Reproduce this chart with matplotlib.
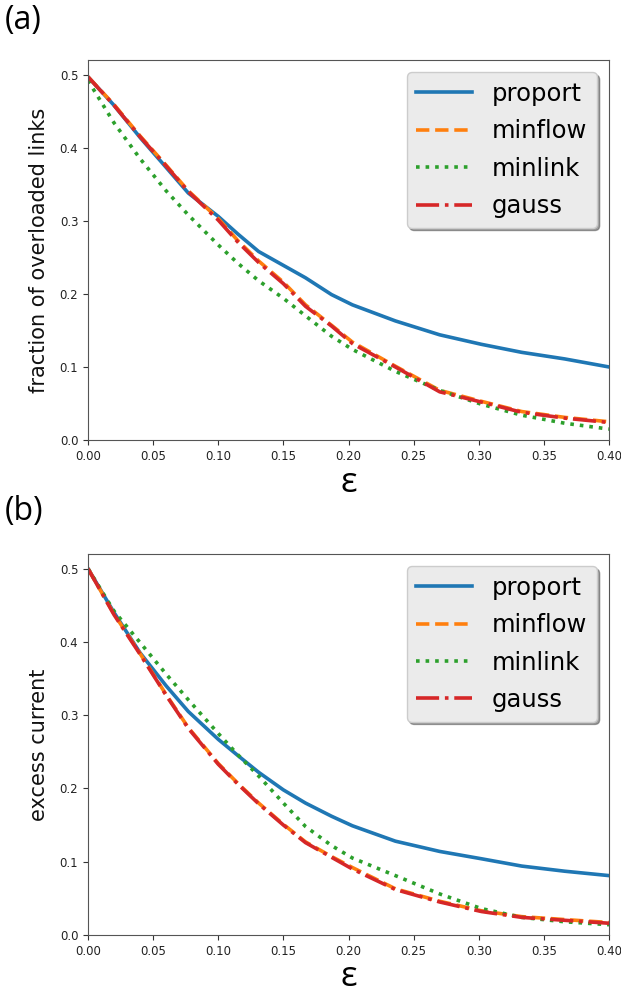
import matplotlib
matplotlib.use("Agg")
import matplotlib.pyplot as plt

# common grid of epsilon values
eps = [0, 0.02, 0.04, 0.06, 0.077, 0.10, 0.115, 0.131, 0.15, 0.167,
       0.187, 0.203, 0.236, 0.27, 0.302, 0.333, 0.366, 0.40]

# (a) fraction of overloaded links
a_proport = [0.497, 0.458, 0.414, 0.373, 0.338, 0.306, 0.282, 0.258, 0.239, 0.222,
             0.199, 0.185, 0.163, 0.144, 0.131, 0.120, 0.111, 0.100]
a_minflow = [0.497, 0.459, 0.416, 0.376, 0.341, 0.303, 0.273, 0.245, 0.216, 0.185,
             0.157, 0.134, 0.101, 0.068, 0.053, 0.039, 0.031, 0.025]
a_minlink = [0.492, 0.434, 0.385, 0.341, 0.308, 0.267, 0.242, 0.218, 0.194, 0.170,
             0.142, 0.124, 0.094, 0.068, 0.049, 0.034, 0.023, 0.015]
a_gauss = [0.497, 0.458, 0.415, 0.375, 0.340, 0.301, 0.271, 0.243, 0.214, 0.183,
           0.156, 0.132, 0.100, 0.066, 0.052, 0.038, 0.030, 0.024]

# (b) excess current
b_proport = [0.500, 0.440, 0.385, 0.340, 0.305, 0.267, 0.245, 0.222, 0.198, 0.180,
             0.162, 0.149, 0.128, 0.114, 0.104, 0.094, 0.087, 0.081]
b_minflow = [0.500, 0.438, 0.384, 0.328, 0.283, 0.234, 0.207, 0.180, 0.151, 0.127,
             0.107, 0.092, 0.063, 0.046, 0.033, 0.025, 0.021, 0.017]
b_minlink = [0.500, 0.442, 0.399, 0.356, 0.321, 0.275, 0.246, 0.217, 0.180, 0.148,
             0.122, 0.105, 0.081, 0.056, 0.036, 0.024, 0.018, 0.014]
b_gauss = [0.500, 0.437, 0.383, 0.327, 0.282, 0.233, 0.206, 0.179, 0.150, 0.126,
           0.106, 0.090, 0.062, 0.045, 0.032, 0.024, 0.020, 0.016]

labels = ["proport", "minflow", "minlink", "gauss"]
styles = ["-", "--", ":", "-."]
colors = ["#1f77b4", "#ff7f0e", "#2ca02c", "#d62728"]

fig = plt.figure(figsize=(6.21, 9.94), dpi=100)
ax_a = fig.add_axes([0.1417, 0.5573, 0.839, 0.3823])
ax_b = fig.add_axes([0.1417, 0.0594, 0.839, 0.3833])

panels = [
    (ax_a, [a_proport, a_minflow, a_minlink, a_gauss], "fraction of overloaded links"),
    (ax_b, [b_proport, b_minflow, b_minlink, b_gauss], "excess current"),
]

for ax, series, ylab in panels:
    for vals, lab, ls, c in zip(series, labels, styles, colors):
        ax.plot(eps, vals, ls, color=c, lw=2.6, label=lab)
    ax.set_xlim(0, 0.40)
    ax.set_ylim(0, 0.52)
    ax.set_xticks([0, 0.05, 0.10, 0.15, 0.20, 0.25, 0.30, 0.35, 0.40])
    ax.set_yticks([0, 0.1, 0.2, 0.3, 0.4, 0.5])
    ax.tick_params(labelsize=8.5, color="#333333", labelcolor="#222222")
    for sp in ax.spines.values():
        sp.set_color("#555555")
    ax.set_ylabel(ylab, fontsize=15, labelpad=8, color="#111111")
    ax.set_xlabel("ε", fontsize=25, family="Open Sans", labelpad=2)
    leg = ax.legend(loc="upper right", fontsize=17.5, handlelength=2.3,
                    labelspacing=0.55, shadow=True, fancybox=True, framealpha=1)
    leg.get_frame().set_facecolor("#ebebeb")
    leg.get_frame().set_edgecolor("#cccccc")

fig.text(0.008, 0.979, "(a)", fontsize=23, family="Open Sans", va="center", ha="left")
fig.text(0.008, 0.485, "(b)", fontsize=23, family="Open Sans", va="center", ha="left")

fig.savefig("out.png", dpi=100)
